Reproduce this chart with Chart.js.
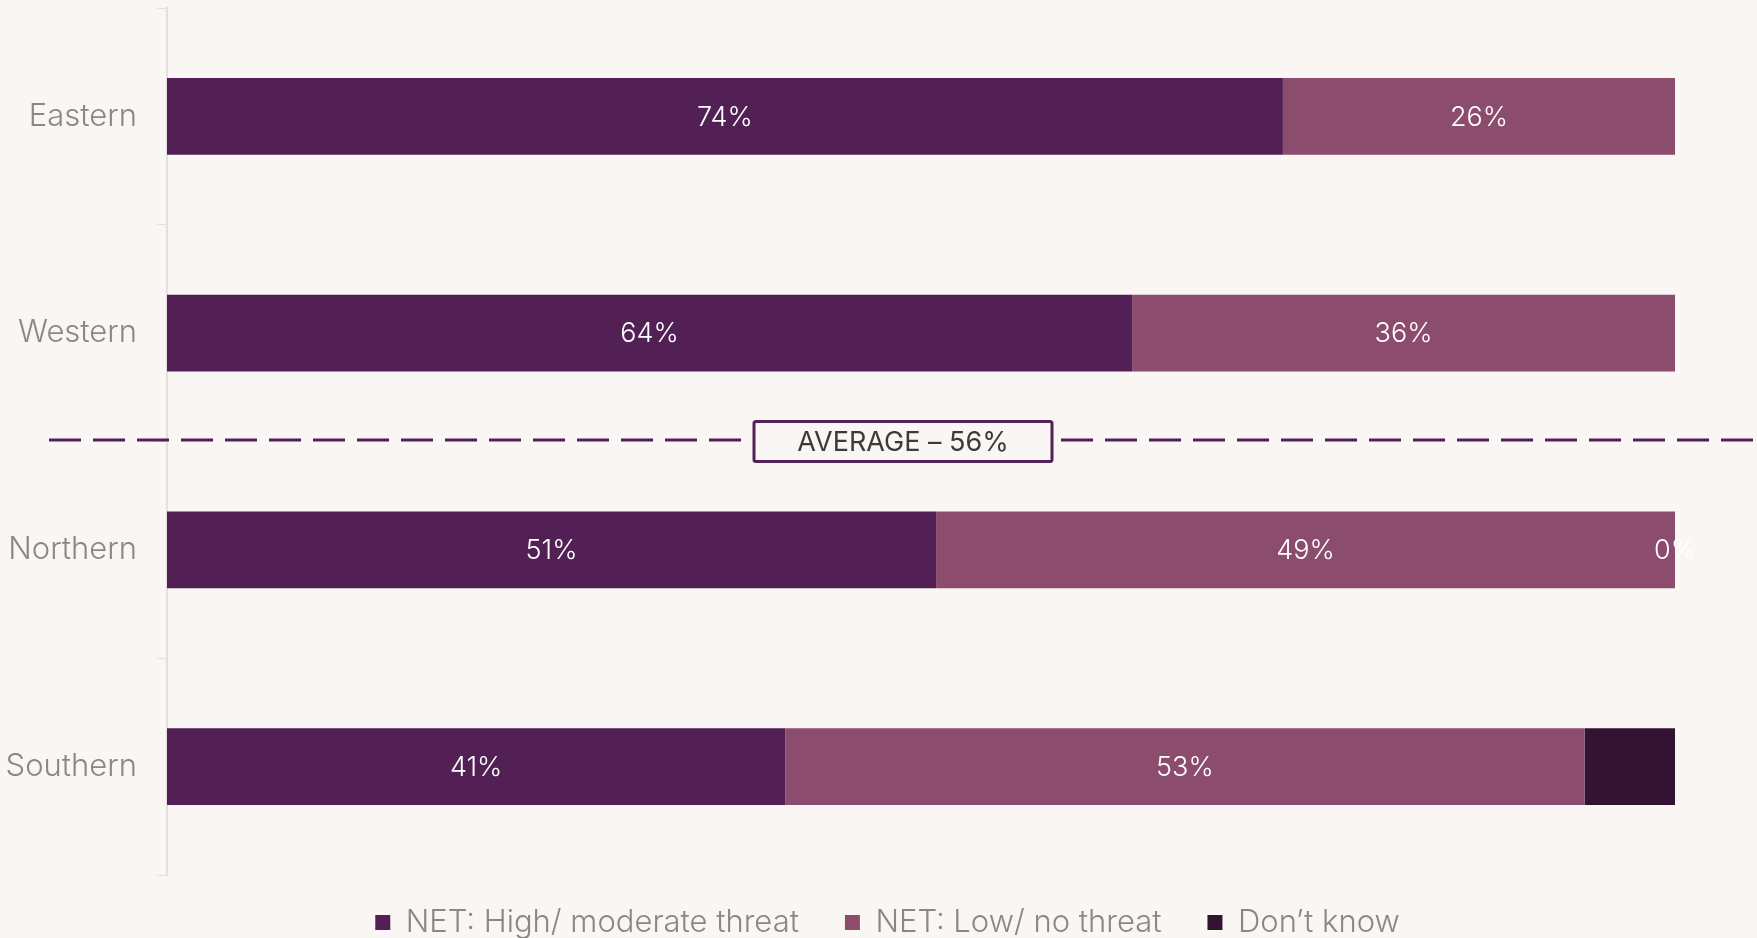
<!DOCTYPE html>
<html>
<head>
<meta charset="utf-8">
<script src="https://cdn.jsdelivr.net/npm/chart.js@4"></script>
<style>
  html, body { margin: 0; padding: 0; background: #faf6f3; }
  #wrap { width: 1757px; height: 938px; position: relative; }
</style>
</head>
<body>
<div id="wrap"><canvas id="regionChart"></canvas></div>
<script>
const regions = ["Eastern", "Western", "Northern", "Southern"];
const highThreat = [74, 64, 51, 41];
const lowThreat = [26, 36, 49, 53];
const dontKnow = [0, 0, 0, 6];
const averageValue = 56;

// which segments carry a value label (series index -> per-region flags)
const showLabels = [
    [true, true, true, true],
    [true, true, true, true],
    [false, false, true, false]
];

const FONT = "Inter, 'Open Sans', sans-serif";

const barLabels = {
    id: "barLabels",
    afterDatasetsDraw(chart) {
        const ctx = chart.ctx;
        ctx.save();
        ctx.font = "300 27px " + FONT;
        ctx.fillStyle = "#ffffff";
        ctx.textAlign = "center";
        ctx.textBaseline = "middle";
        chart.data.datasets.forEach((ds, i) => {
            const meta = chart.getDatasetMeta(i);
            meta.data.forEach((bar, j) => {
                if (!showLabels[i][j]) return;
                const x = (bar.x + bar.base) / 2;
                ctx.fillText(ds.data[j] + "%", x, bar.y + 1);
            });
        });
        ctx.restore();
    }
};

// dashed divider between Western and Northern with the average tag
const averageLine = {
    id: "averageLine",
    afterDatasetsDraw(chart) {
        const ctx = chart.ctx;
        const y = chart.scales.y;
        const mid = (y.getPixelForValue(1) + y.getPixelForValue(2)) / 2;
        const py = mid - 1.5;
        const x0 = 49, x1 = chart.width;
        const cx = (x0 + x1) / 2;
        ctx.save();
        ctx.strokeStyle = "#52215a";
        ctx.lineWidth = 3;
        ctx.setLineDash([32, 12]);
        ctx.beginPath();
        ctx.moveTo(x0, py);
        ctx.lineTo(x1, py);
        ctx.stroke();

        const w = 298, h = 40;
        ctx.setLineDash([]);
        ctx.fillStyle = "#faf6f3";
        ctx.beginPath();
        ctx.roundRect(cx - w / 2, mid - h / 2, w, h, 2);
        ctx.fill();
        ctx.stroke();

        ctx.fillStyle = "#3d3a3c";
        ctx.font = "400 27px " + FONT;
        ctx.textAlign = "center";
        ctx.textBaseline = "middle";
        ctx.fillText("AVERAGE \u2013 " + averageValue + "%", cx, mid + 1);
        ctx.restore();
    }
};

// short legend strip, nudged right of the canvas centre and pulled up a little
const legendShift = 50;
const legendLift = 14;
const legendLayout = {
    id: "legendLayout",
    afterInit(chart) {
        const legend = chart.legend;
        const fit = legend.fit.bind(legend);
        legend.fit = function () {
            fit();
            this.height = 63;
        };
    },
    afterLayout(chart) {
        const lg = chart.legend;
        lg.left += legendShift;
        lg.right += legendShift;
        lg.top -= legendLift;
    }
};

new Chart(document.getElementById("regionChart"), {
    type: "bar",
    data: {
        labels: regions,
        datasets: [
            {
                label: "NET: High/ moderate threat",
                data: highThreat,
                backgroundColor: "#532056"
            },
            {
                label: "NET: Low/ no threat",
                data: lowThreat,
                backgroundColor: "#8c4c6d"
            },
            {
                label: "Don\u2019t know",
                data: dontKnow,
                backgroundColor: "#321432"
            }
        ]
    },
    options: {
        indexAxis: "y",
        responsive: true,
        maintainAspectRatio: false,
        animation: false,
        categoryPercentage: 1,
        barPercentage: 0.353,
        layout: {
            padding: { top: 8, right: 82, left: 0, bottom: 0 }
        },
        scales: {
            x: {
                stacked: true,
                display: false,
                min: 0,
                max: 100
            },
            y: {
                stacked: true,
                afterFit(scale) {
                    scale.width = 167;
                    scale.paddingTop = 0;
                    scale.paddingBottom = 0;
                },
                grid: {
                    drawOnChartArea: false,
                    tickLength: 10,
                    color: "#e4e0e0"
                },
                border: { color: "#e4e0e0", width: 2 },
                ticks: {
                    padding: 20,
                    color: "#888888",
                    font: { family: FONT, size: 31, weight: 300 }
                }
            }
        },
        plugins: {
            legend: {
                position: "bottom",
                labels: {
                    boxWidth: 15,
                    boxHeight: 15,
                    padding: 46,
                    color: "#888888",
                    font: { family: FONT, size: 31, weight: 300 }
                }
            },
            tooltip: { enabled: false }
        }
    },
    plugins: [barLabels, averageLine, legendLayout]
});
</script>
</body>
</html>
